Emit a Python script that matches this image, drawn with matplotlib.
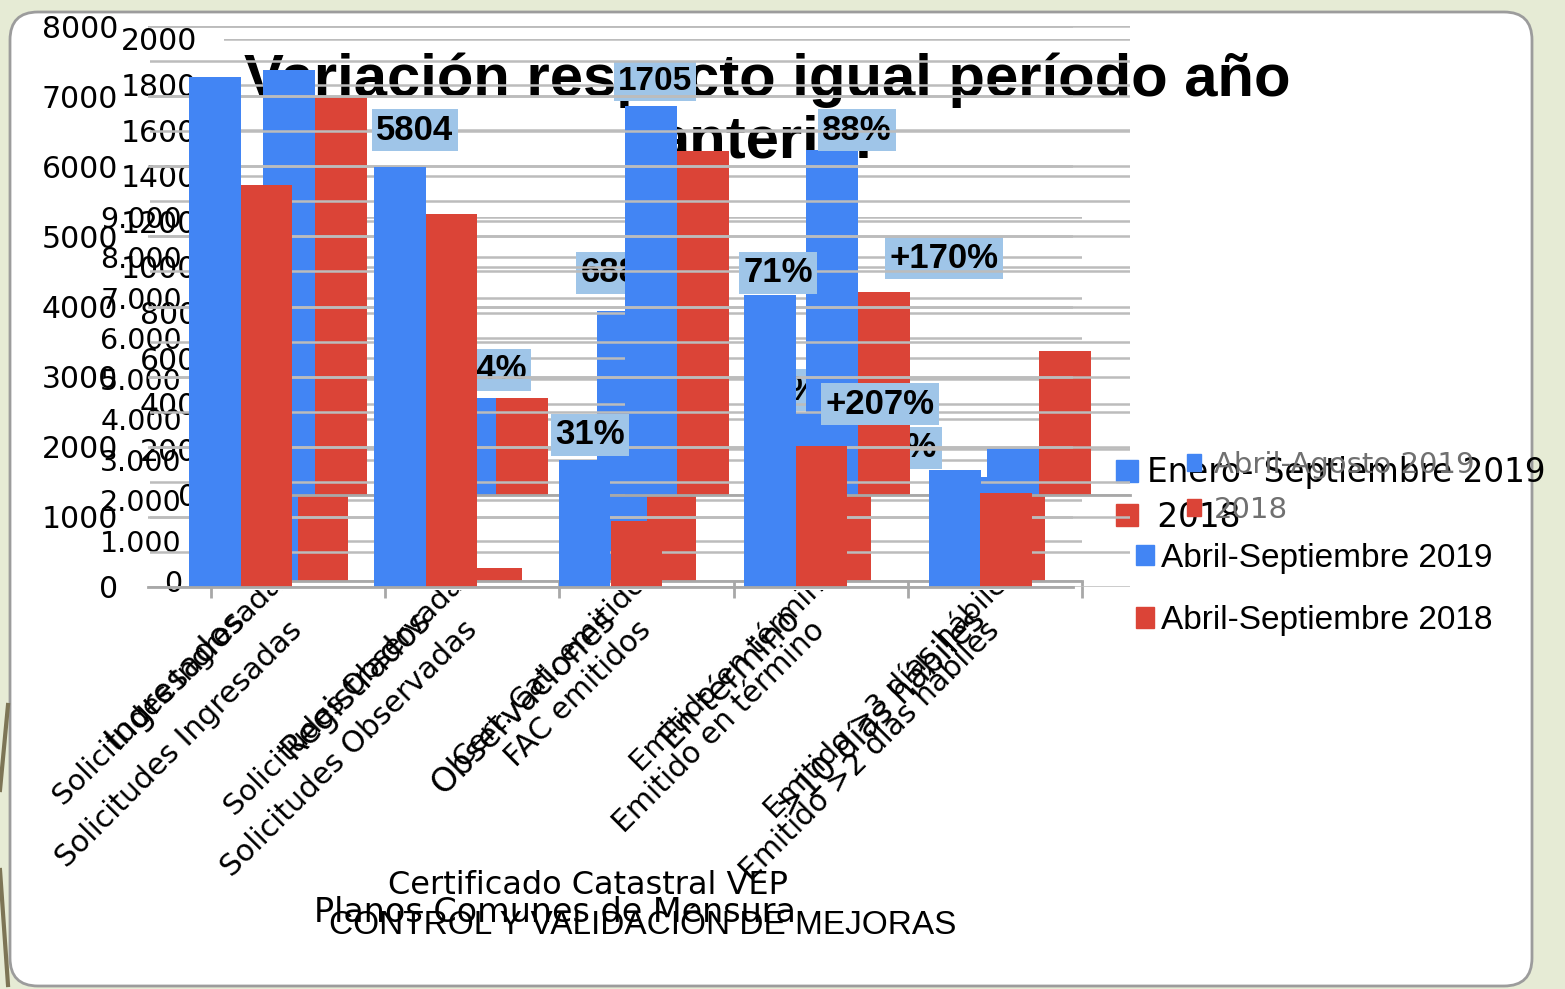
import numpy as np
import matplotlib
matplotlib.use("Agg")
import matplotlib.pyplot as plt
from matplotlib.patches import FancyBboxPatch, Patch
from matplotlib.transforms import IdentityTransform, Bbox, TransformedBbox, ScaledTranslation
from matplotlib.lines import Line2D

W, H = 1565, 989

# Planos Comunes de Mensura (escala 0-8000)
cat_planos = ["Ingresados", "Registrados", "Observaciones", "En término", ">10 días hábiles"]
planos_2019 = [7275, 5990, 1810, 4165, 1670]
planos_2018 = [5735, 5320, 940, 2010, 1340]

# Certificado Catastral VEP (escala 0-2000)
cat_vep = ["Solicitudes Ingresadas", "Solicitudes Observadas", "Cert. Cat. emitidos",
           "Emitido en término", "Emitido >3 días hábiles"]
vep_2019 = [1865, 425, 1705, 1513, 206]
vep_2018 = [1746, 425, 1509, 890, 632]

# Control y validacion de mejoras (escala 0-9.000)
cat_mejoras = ["Solicitudes Ingresadas", "Solicitudes Observadas", "FAC emitidos",
               "Emitido en término", "Emitido >2 días hábiles"]
mejoras_2019 = [7500, 5100, 6688, 4150, 2570]
mejoras_2018 = [2170, 320, 2120, 2170, 2170]

BLUE = "#4285f4"
RED = "#db4437"
GRID = "#bcbcbc"
LBL_BG = "#9fc5e8"

fig = plt.figure(figsize=(W / 100, H / 100), dpi=100)
fig.patch.set_facecolor("#e6ebd5")

# white slide panel
panel = FancyBboxPatch((10, H - 986), 1522, 974, boxstyle="round,pad=0,rounding_size=28",
                       transform=IdentityTransform(), facecolor="white",
                       edgecolor="#9c9c9c", lw=2, zorder=-10)
fig.add_artist(panel)
fig.add_artist(Line2D([8 / W, 0], [1 - 705 / H, 1 - 790 / H], color="#7d7556", lw=3))
fig.add_artist(Line2D([0, 8 / W], [1 - 870 / H, 1 - 985 / H], color="#7d7556", lw=3))


def px_axes(x0, y0, x1, y1, z):
    ax = fig.add_axes([x0 / W, 1 - y1 / H, (x1 - x0) / W, (y1 - y0) / H], zorder=z)
    ax.patch.set_visible(False)
    for s in ["top", "right", "left"]:
        ax.spines[s].set_visible(False)
    ax.spines["bottom"].set_color("#a8a8a8")
    ax.spines["bottom"].set_linewidth(2)
    ax.yaxis.grid(True, color=GRID, lw=1.8)
    ax.set_axisbelow(True)
    return ax


def grouped(ax, a, b, width):
    x = np.arange(len(a))
    ax.bar(x - width / 2, a, width, color=BLUE, zorder=2)
    ax.bar(x + width / 2, b, width, color=RED, zorder=2)
    ax.set_xlim(-0.5, len(a) - 0.5)


def tag(ax, s, x, y, size=25):
    ax.text(x / W, 1 - y / H, s, transform=fig.transFigure, ha="center", va="center",
            fontsize=size, fontweight="bold", family="Liberation Sans", zorder=5,
            bbox=dict(boxstyle="square,pad=0.12", fc=LBL_BG, ec="none"))


# title sits behind everything
fig.text(767 / W, 1 - 80 / H, "Variación respecto igual período año", ha="center", va="center",
         fontsize=43, fontweight="bold", family="Liberation Sans", zorder=-5)
fig.text(767 / W, 1 - 142 / H, "anterior", ha="center", va="center",
         fontsize=43, fontweight="bold", family="Liberation Sans", zorder=-5)

# ---- CONTROL Y VALIDACION DE MEJORAS (lowest layer)
axC = px_axes(211, 217, 1082, 581, 1)
grouped(axC, mejoras_2019, mejoras_2018, 0.287)
axC.set_ylim(0, 9000)
axC.set_yticks(range(0, 9001, 1000))
axC.set_yticklabels([f"{v:,}".replace(",", ".") for v in range(0, 9001, 1000)])
axC.tick_params(axis="y", length=0, pad=21, labelsize=20.5)
axC.set_xticks(range(5))
axC.set_xticks(np.arange(-0.5, 5, 1), minor=True)
axC.tick_params(axis="x", which="major", length=0, pad=32)
axC.tick_params(axis="x", which="minor", length=12, width=2, color="#a8a8a8")
axC.set_xticklabels(cat_mejoras, rotation=45, ha="right", va="center",
                    rotation_mode="anchor", fontsize=21.5)
axC.legend(handles=[Patch(color=BLUE), Patch(color=RED)],
           labels=["Abril-Septiembre 2019", "Abril-Septiembre 2018"],
           loc="upper left", bbox_to_anchor=(1119 / W, 1 - 526 / H), bbox_transform=fig.transFigure,
           frameon=False, prop={"family": "Liberation Sans", "size": 24},
           handlelength=0.55, handleheight=0.55, handletextpad=0.2, labelspacing=0.95, borderpad=0)
tag(axC, "688%", 625, 273)
tag(axC, "-9%", 790, 390)
tag(axC, "56%", 903, 448)

# ---- Certificado Catastral VEP
axB = px_axes(224, 39, 1130, 495, 2)
grouped(axB, vep_2019, vep_2018, 0.287)
axB.set_ylim(0, 2000)
axB.set_yticks(range(0, 2001, 200))
axB.tick_params(axis="y", length=0, pad=19.5, labelsize=21.5)
axB.set_xticks([])
clip = TransformedBbox(Bbox([[0, 0], [1, 1 - 590 / H]]), fig.transFigure)
for i, lab in enumerate(cat_vep):
    tr = axB.get_xaxis_transform() + ScaledTranslation(-0.35, -0.65, fig.dpi_scale_trans)
    t = axB.text(i, 0, lab, transform=tr, rotation=45, ha="right", va="top",
                 rotation_mode="anchor", fontsize=21, family="DejaVu Sans")
    t.set_clip_path(None)
    t.set_clip_box(clip)
    t.set_clip_on(True)
axB.legend(handles=[Patch(color=BLUE), Patch(color=RED)],
           labels=["Enero- Septiembre 2019", " 2018"],
           loc="upper left", bbox_to_anchor=(1100 / W, 1 - 440 / H), bbox_transform=fig.transFigure,
           frameon=False, prop={"family": "DejaVu Sans", "size": 23.5},
           handlelength=0.65, handleheight=0.65, handletextpad=0.3, labelspacing=0.35, borderpad=0)
tag(axB, "1705", 655, 81, size=24)
tag(axB, "88%", 857, 130)
tag(axB, "+170%", 944, 258)
tag(axB, "14%", 492, 370)

# ---- extra gridlines layer (0-8000 every 500)
axD = px_axes(150, 26, 1130, 587, 3)
axD.spines["bottom"].set_visible(False)
axD.set_ylim(0, 8000)
axD.set_yticks(range(0, 8001, 500))
axD.tick_params(left=False, labelleft=False, bottom=False, labelbottom=False)

# ---- Planos Comunes de Mensura (top layer)
axA = px_axes(148, 26, 1073, 587, 4)
grouped(axA, planos_2019, planos_2018, 0.28)
axA.set_ylim(0, 8000)
axA.set_yticks(range(0, 8001, 1000))
axA.tick_params(axis="y", length=0, pad=21.5, labelsize=21.5)
axA.set_xticks(range(5))
axA.tick_params(axis="x", length=0, pad=20)
axA.set_xticklabels(cat_planos, rotation=45, ha="right", va="center",
                    rotation_mode="anchor", fontsize=24, family="DejaVu Sans")
axA.legend(handles=[Patch(color=BLUE), Patch(color=RED)],
           labels=["Abril-Agosto 2019", "2018"],
           loc="upper left", bbox_to_anchor=(1172 / W, 1 - 436 / H), bbox_transform=fig.transFigure,
           frameon=False, prop={"family": "DejaVu Sans", "size": 21}, labelcolor="#707070",
           handlelength=0.5, handleheight=0.5, handletextpad=0.45, labelspacing=0.6, borderpad=0)
tag(axA, "5804", 415, 130)
tag(axA, "31%", 590, 435)
tag(axA, "71%", 778, 273)
tag(axA, "+207%", 880, 404)

# axis titles of the three charts
fig.text(588 / W, 1 - 886 / H, "Certificado Catastral VEP", ha="center", va="center",
         fontsize=23, family="DejaVu Sans")
fig.text(643 / W, 1 - 926 / H, "CONTROL Y VALIDACIÓN DE MEJORAS", ha="center", va="center",
         fontsize=24, family="Liberation Sans")
fig.text(555 / W, 1 - 912 / H, "Planos Comunes de Mensura", ha="center", va="center",
         fontsize=24, family="DejaVu Sans")

fig.savefig("out.png", dpi=100, facecolor=fig.get_facecolor())
